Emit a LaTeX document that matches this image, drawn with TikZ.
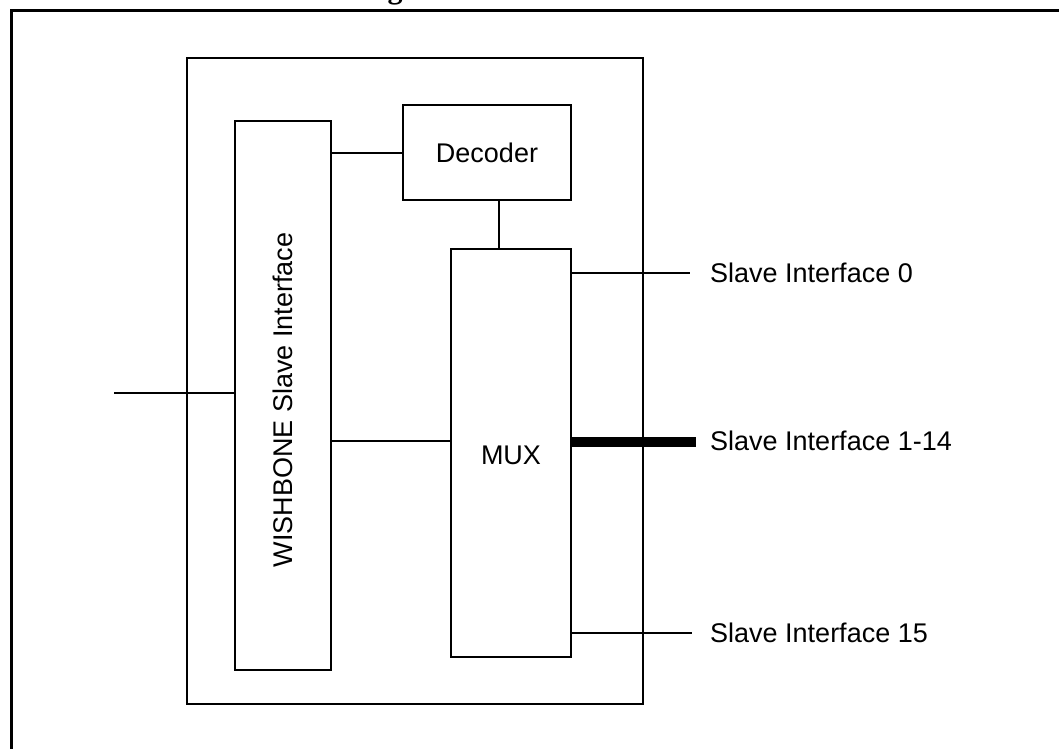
\documentclass[tikz,border=0pt]{standalone}
\usepackage{fontspec}
\setmainfont{Liberation Sans}
\newfontfamily\titlefont{Liberation Serif}
\begin{document}
\begin{tikzpicture}[x=1pt,y=-1pt,
  blk/.style={draw,line width=2pt,rectangle,inner sep=0pt},
  wire/.style={line width=2pt},
  bus/.style={line width=10pt},
  lbl/.style={inner sep=0pt,font=\fontsize{27}{32}\selectfont}]
\useasboundingbox (0,0) rectangle (1059,748);
\clip (0,0) rectangle (1059,748);
% partial title glyph (cut off at top, as in the reference)
\node[inner sep=0pt,anchor=base,font=\titlefont\bfseries\fontsize{30}{36}\selectfont] (title) at (395,-2) {g};
% outer frame
\draw[line width=3pt] (11.5,10.5) rectangle (1075,770);
% blocks
\node[blk,minimum width=456pt,minimum height=646pt] (big) at (415,381) {};
\node[blk,minimum width=96pt,minimum height=549pt] (wb) at (283,395.5) {};
\node[lbl,rotate=90] (wbtxt) at (283,400) {WISHBONE Slave Interface};
\node[blk,minimum width=168pt,minimum height=95pt,lbl] (dec) at (487,152.5) {Decoder};
\node[blk,minimum width=120pt,minimum height=408pt] (mux) at (511,453) {};
\node[lbl] (muxtxt) at (511,455) {MUX};
% coordinates
\coordinate (in) at (114,393);
\coordinate (wm) at (400,440.7);
\coordinate (dm) at (499,200);
\coordinate (s0) at (690,272.7);
\coordinate (s1) at (695.7,441.5);
\coordinate (s15) at (692,633);
% connectors
\draw[wire] (in) -- (in -| wb.west);
\draw[wire] (wb.east |- dec.west) -- (dec.west);
\draw[wire] (dm |- dec.south) -- (dm |- mux.north);
\draw[wire] (wm -| wb.east) -- (wm -| mux.west);
\draw[wire] (s0 -| mux.east) -- (s0);
\draw[bus] (s1 -| mux.east) -- (s1);
\draw[wire] (s15 -| mux.east) -- (s15);
% labels
\node[lbl,anchor=base west] (l0) at (710,282) {Slave Interface 0};
\node[lbl,anchor=base west] (l1) at (710,450) {Slave Interface 1-14};
\node[lbl,anchor=base west] (l15) at (710,642) {Slave Interface 15};
\end{tikzpicture}
\end{document}
